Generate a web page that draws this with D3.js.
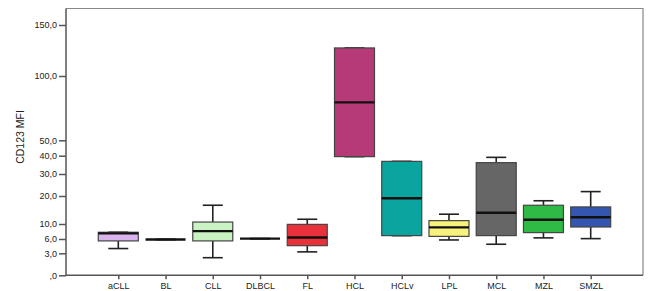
<!DOCTYPE html>
<html>
<head>
<meta charset="utf-8">
<script src="https://cdn.jsdelivr.net/npm/d3@7"></script>
<style>
  body { margin: 0; background: #fff; }
  svg { display: block; font-family: "Liberation Sans", Arial, sans-serif; }
  .axis path, .axis line { stroke: #555; stroke-width: 1.5; }
  .axis text { fill: #222; font-size: 9px; }
</style>
</head>
<body>
<div id="chart"></div>
<script>
// groups along the x axis
const groups = ['aCLL', 'BL', 'CLL', 'DLBCL', 'FL', 'HCL', 'HCLv', 'LPL', 'MCL', 'MZL', 'SMZL'];

// box statistics
const whiskerLow = [4.0, 5.9, 2.4, 6.1, 3.3, 39.5, 6.9, 5.8, 4.9, 6.3, 6.1];
const q1 =         [5.6, 5.9, 5.6, 6.1, 4.6, 39.5, 6.9, 6.7, 6.9, 7.7, 9.2];
const median =     [7.5, 5.9, 8.1, 6.1, 6.4, 79.5, 19.2, 9.1, 14.0, 11.5, 12.4];
const q3 =         [7.8, 5.9, 10.7, 6.1, 9.9, 127.5, 36.9, 11.2, 36.2, 16.7, 16.1];
const whiskerHigh = [7.8, 5.9, 16.7, 6.1, 11.7, 127.5, 36.9, 13.5, 39.1, 18.3, 22.0];

const boxColors = ['#d9b3ec', '#d9d9d9', '#c9f3c3', '#d9d9d9', '#e8313b', '#b63a77',
  '#0aa59f', '#f6f27b', '#666666', '#2fb945', '#3556b0'];

// y axis ticks (the original axis is non linear, so ticks pin the scale)
const yTicks = [0, 3, 6, 10, 20, 30, 40, 50, 100, 150];
const yTickPos = [275.3, 253.3, 239, 224, 196, 174, 155.7, 140.3, 76, 25];

const width = 659, height = 291;
const frame = {left: 66, top: 8.5, right: 643, bottom: 275.3};

const svg = d3.select('#chart').append('svg')
  .attr('width', width)
  .attr('height', height);

const x = d3.scalePoint().domain(groups).range([118.3, 590.7]);
const y = d3.scaleLinear().domain(yTicks).range(yTickPos);

// frame: thin grey on top/right
svg.append('path')
  .attr('d', `M${frame.left},${frame.top}H${frame.right}V${frame.bottom}`)
  .attr('fill', 'none')
  .attr('stroke', '#888')
  .attr('stroke-width', 1.2);

svg.append('g')
  .attr('class', 'axis')
  .attr('transform', `translate(${frame.left},0)`)
  .call(d3.axisLeft(y).tickValues(yTicks).tickSize(7).tickPadding(2)
    .tickFormat(d => d === 0 ? ',0' : d3.format('.1f')(d).replace('.', ',')))
  .call(g => g.select('.domain').attr('d', `M0,${frame.top}V${frame.bottom}`));

svg.append('g')
  .attr('class', 'axis')
  .attr('transform', `translate(0,${frame.bottom})`)
  .call(d3.axisBottom(x).tickSize(4).tickPadding(3))
  .call(g => g.select('.domain').attr('d', `M${frame.left},0H${frame.right}`));

svg.append('text')
  .attr('transform', 'translate(24,137) rotate(-90)')
  .attr('text-anchor', 'middle')
  .attr('font-size', 10.5)
  .attr('fill', '#222')
  .text('CD123 MFI');

const boxW = 40, capW = 20;

groups.forEach((g, i) => {
  const cx = x(g);
  const b = svg.append('g');

  // whiskers
  b.append('line')
    .attr('x1', cx).attr('x2', cx)
    .attr('y1', y(whiskerHigh[i])).attr('y2', y(q3[i]))
    .attr('stroke', '#222').attr('stroke-width', 1.6);
  b.append('line')
    .attr('x1', cx).attr('x2', cx)
    .attr('y1', y(q1[i])).attr('y2', y(whiskerLow[i]))
    .attr('stroke', '#222').attr('stroke-width', 1.6);
  [whiskerHigh[i], whiskerLow[i]].forEach(v => {
    b.append('line')
      .attr('x1', cx - capW / 2).attr('x2', cx + capW / 2)
      .attr('y1', y(v)).attr('y2', y(v))
      .attr('stroke', '#222').attr('stroke-width', 1.6);
  });

  // box
  if (q3[i] > q1[i]) {
    b.append('rect')
      .attr('x', cx - boxW / 2)
      .attr('y', y(q3[i]))
      .attr('width', boxW)
      .attr('height', y(q1[i]) - y(q3[i]))
      .attr('fill', boxColors[i])
      .attr('stroke', '#444')
      .attr('stroke-width', 1.2);
  }

  // median
  b.append('line')
    .attr('x1', cx - boxW / 2).attr('x2', cx + boxW / 2)
    .attr('y1', y(median[i])).attr('y2', y(median[i]))
    .attr('stroke', '#111').attr('stroke-width', 2.4);
});
</script>
</body>
</html>
